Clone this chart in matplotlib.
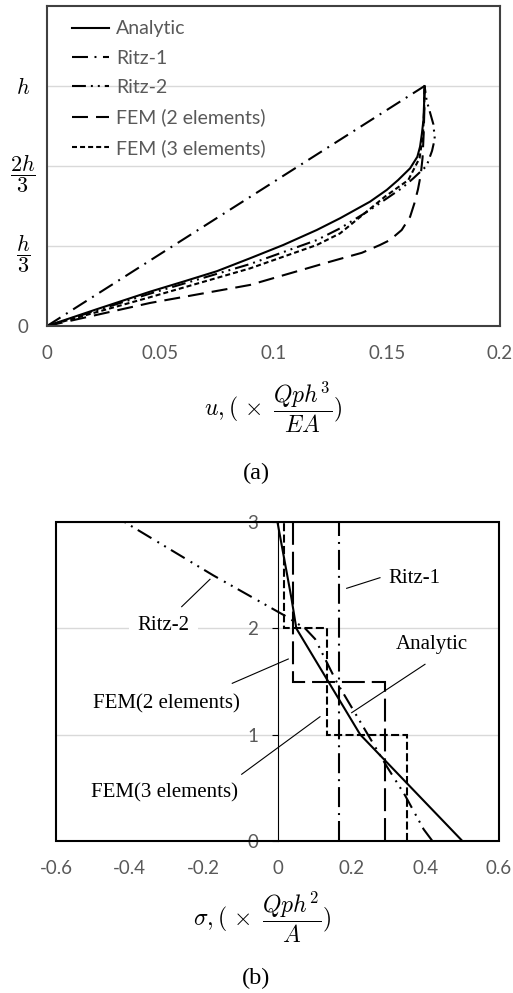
import matplotlib
matplotlib.use('Agg')
import matplotlib.pyplot as plt
from matplotlib.patches import Rectangle

plt.rcParams['mathtext.fontset'] = 'cm'
plt.rcParams['lines.scale_dashes'] = False
plt.rcParams['font.family'] = ['Lato', 'DejaVu Sans']

# ---------------- data: (a) displacement ----------------
an_u = [0, 0.022, 0.0455, 0.0602, 0.0749, 0.0896, 0.1043, 0.1191, 0.1294, 0.1426, 0.1500,
        0.1550, 0.1603, 0.1635, 0.1647, 0.1655, 0.1662, 0.1665, 0.1667]
an_y = [0, 0.07, 0.143, 0.185, 0.228, 0.282, 0.3375, 0.40, 0.449, 0.518, 0.567,
        0.608, 0.657, 0.705, 0.747, 0.80, 0.858, 0.93, 1.0]

r1_u = [0, 0.1667]
r1_y = [0, 1.0]

r2_u = [0, 0.0455, 0.0896, 0.1191, 0.1294, 0.142, 0.1566, 0.1617, 0.1676, 0.1700, 0.1712,
        0.1706, 0.1676, 0.1667]
r2_y = [0, 0.135, 0.258, 0.358, 0.407, 0.48, 0.574, 0.615, 0.667, 0.73, 0.78,
        0.84, 0.94, 1.0]

f2_u = [0, 0.0455, 0.0896, 0.125, 0.139, 0.147, 0.1514, 0.1566, 0.1603, 0.1622, 0.1638,
        0.1650, 0.1658, 0.1663, 0.1666, 0.1667]
f2_y = [0, 0.096, 0.171, 0.268, 0.305, 0.3375, 0.358, 0.40, 0.455, 0.511, 0.57,
        0.63, 0.70, 0.80, 0.90, 1.0]

f3_u = [0, 0.0455, 0.0896, 0.1191, 0.1294, 0.1377, 0.1492, 0.1595, 0.1645, 0.1660, 0.1665, 0.1667]
f3_y = [0, 0.12, 0.24, 0.3375, 0.386, 0.45, 0.539, 0.608, 0.70, 0.80, 0.90, 1.0]

legend_labels = ['Analytic', 'Ritz-1', 'Ritz-2', 'FEM (2 elements)', 'FEM (3 elements)']
top_xticks = [0, 0.05, 0.1, 0.15, 0.2]
top_xticklabels = ['0', '0.05', '0.1', '0.15', '0.2']
top_yticks = [0, 1/3, 2/3, 1]
top_yticklabels = ['0', r'$\dfrac{h}{3}$', r'$\dfrac{2h}{3}$', r'$h$']

# ---------------- data: (b) stress ----------------
an_s = [0.5, 0.224, 0.051, 0.038, 0.0]
an_sy = [0, 1, 2, 2.28, 3]

r1_s = [0.1667, 0.1667]
r1_sy = [0, 3]

r2_s = [0.419, 0.396, 0.345, 0.296, 0.242, 0.161, 0.102, 0.075, 0.02, -0.174, -0.413]
r2_sy = [0, 0.107, 0.43, 0.70, 1.016, 1.49, 1.90, 2.0, 2.12, 2.5, 3.0]

f2_vals = [0.29, 0.043]
f2_edges = [0, 1.5, 3]
f3_vals = [0.351, 0.133, 0.018]
f3_edges = [0, 1, 2, 3]

bot_xticks = [-0.6, -0.4, -0.2, 0, 0.2, 0.4, 0.6]
bot_xticklabels = ['-0.6', '-0.4', '-0.2', '0', '0.2', '0.4', '0.6']
bot_yticks = [0, 1, 2, 3]
bot_yticklabels = ['0', '1', '2', '3']

GRAY = '#595959'
GRID = '#d9d9d9'

W, H = 513, 993
fig = plt.figure(figsize=(W / 100, H / 100), dpi=100)


def rect(l, t, r, b):
    return [l / W, 1 - b / H, (r - l) / W, (b - t) / H]


# ---------------- top chart ----------------
ax1 = fig.add_axes(rect(47, 6, 500, 326))
lw = 1.5
ls_r1 = (0, (11.5, 4.7, 1.4, 4.7))
ls_r2 = (0, (10, 3.6, 1.4, 3.6, 1.4, 3.6))
ls_f2 = (0, (11.5, 5.8))
ls_f3 = (0, (3.6, 2.2))
ax1.plot(an_u, an_y, color='black', lw=lw, label=legend_labels[0])
ax1.plot(r1_u, r1_y, color='black', lw=lw, ls=ls_r1, label=legend_labels[1])
ax1.plot(r2_u, r2_y, color='black', lw=lw, ls=ls_r2, label=legend_labels[2])
ax1.plot(f2_u, f2_y, color='black', lw=lw, ls=ls_f2, label=legend_labels[3])
ax1.plot(f3_u, f3_y, color='black', lw=lw, ls=ls_f3, label=legend_labels[4])
ax1.set_xlim(0, 0.2)
ax1.set_ylim(0, 4 / 3)
ax1.set_xticks(top_xticks)
ax1.set_xticklabels(top_xticklabels)
ax1.set_yticks(top_yticks)
ax1.set_yticklabels(top_yticklabels)
ax1.tick_params(axis='x', length=0, pad=14, labelsize=13.5, labelcolor=GRAY)
ax1.tick_params(axis='y', length=0, pad=17)
for i, lab in enumerate(ax1.get_yticklabels()):
    lab.set_ha('center')
    if i == 0:
        lab.set_fontsize(13.5)
        lab.set_color(GRAY)
    else:
        lab.set_fontsize(16)
        lab.set_color('black')
ax1.grid(axis='y', color=GRID, lw=1)
ax1.set_axisbelow(True)
for s in ax1.spines.values():
    s.set_color('#404040')
    s.set_linewidth(1.5)
leg = ax1.legend(loc='upper left', bbox_to_anchor=(0.056, 0.955), frameon=False,
                 prop={'family': 'Lato', 'size': 14}, handlelength=1.9, handletextpad=0.35,
                 labelspacing=0.64, borderaxespad=0, borderpad=0)
for t in leg.get_texts():
    t.set_color(GRAY)

fig.text(273 / W, 1 - 407 / H, r'$u, (\,\times\;\dfrac{Qph^3}{EA})$', ha='center',
         va='center', fontsize=17)
fig.text(256 / W, 1 - 473 / H, '(a)', ha='center', va='center', fontsize=17.5,
         family='Liberation Serif')

# ---------------- bottom chart ----------------
ax2 = fig.add_axes(rect(56, 522.3, 499, 840.7))
lw2 = 1.5
ax2.plot(an_s, an_sy, color='black', lw=lw2)
ax2.plot(r1_s, r1_sy, color='black', lw=lw2, ls=(0, (14.4, 4.3, 1.4, 4.3)))
ax2.plot(r2_s, r2_sy, color='black', lw=lw2, ls=(0, (11.5, 4.3, 1.4, 4.3, 1.4, 5)))
ax2.stairs(f2_vals, f2_edges, orientation='horizontal', baseline=None, color='black',
           lw=lw2, ls=(0, (16.5, 5)))
ax2.stairs(f3_vals, f3_edges, orientation='horizontal', baseline=None, color='black',
           lw=lw2, ls=(0, (5.8, 2.4)))
ax2.set_xlim(-0.6, 0.6)
ax2.set_ylim(0, 3)
ax2.set_xticks(bot_xticks)
ax2.set_xticklabels(bot_xticklabels)
ax2.set_yticks(bot_yticks)
ax2.set_yticklabels(bot_yticklabels)
ax2.tick_params(axis='x', length=0, pad=14, labelsize=13.5, labelcolor=GRAY)
ax2.tick_params(axis='y', length=4, width=0.8, direction='out', pad=10, labelsize=13.5,
                labelcolor=GRAY)
for lab in ax2.get_yticklabels():
    lab.set_bbox(dict(fc='white', ec='none', pad=1))
ax2.grid(axis='y', color=GRID, lw=1)
ax2.set_axisbelow(True)
for k in ['top', 'right', 'bottom']:
    ax2.spines[k].set_visible(False)
ax2.spines['left'].set_position(('data', 0))
ax2.spines['left'].set_linewidth(0.8)
ax2.add_patch(Rectangle((0, 0), 1, 1, transform=ax2.transAxes, fill=False, ec='black',
                        lw=1.5, clip_on=False, zorder=5))

serif = 'Liberation Serif'
tfs = 15
ax2.text(0.3705, 2.472, 'Ritz-1', ha='center', va='center', fontsize=tfs, family=serif)
ax2.plot([0.1874, 0.2776], [2.378, 2.478], color='black', lw=0.8)
ax2.text(-0.3094, 2.023, 'Ritz-2', ha='center', va='center', fontsize=tfs, family=serif,
         bbox=dict(fc='white', ec='none', pad=6), zorder=3)
ax2.plot([-0.2595, -0.1829], [2.205, 2.463], color='black', lw=0.8)
ax2.text(0.4176, 1.853, 'Analytic', ha='center', va='center', fontsize=tfs, family=serif)
ax2.plot([0.3995, 0.2009], [1.662, 1.206], color='black', lw=0.8)
ax2.text(-0.3002, 1.288, 'FEM(2 elements)', ha='center', va='center', fontsize=tfs,
         family=serif)
ax2.plot([-0.1225, 0.0292], [1.483, 1.712], color='black', lw=0.8)
ax2.text(-0.3048, 0.447, 'FEM(3 elements)', ha='center', va='center', fontsize=tfs,
         family=serif)
ax2.plot([-0.097, 0.1151], [0.626, 1.168], color='black', lw=0.8)

fig.text(262 / W, 1 - 917 / H, r'$\sigma, (\,\times\;\dfrac{Qph^2}{A})$', ha='center',
         va='center', fontsize=17)
fig.text(256 / W, 1 - 978 / H, '(b)', ha='center', va='center', fontsize=17.5, family=serif)

fig.savefig('out.png', dpi=100)
